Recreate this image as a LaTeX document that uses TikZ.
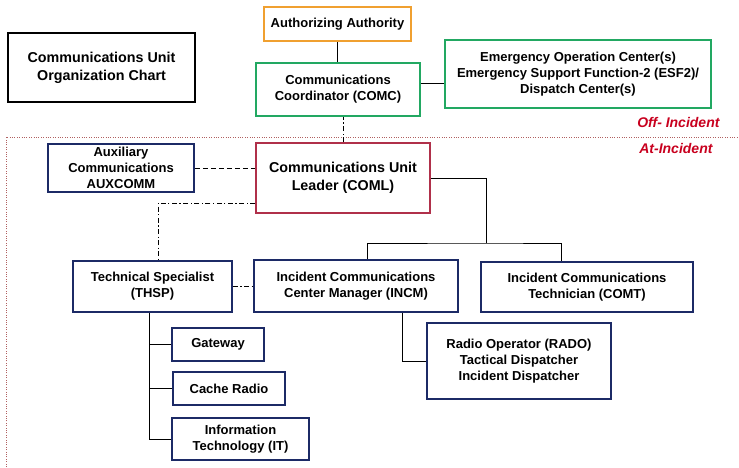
\documentclass[tikz,border=0pt]{standalone}
\usepackage{fontspec}
\setmainfont{Liberation Sans}
\usetikzlibrary{positioning, calc}
\definecolor{commorange}{HTML}{F0A030}
\definecolor{commgreen}{HTML}{22A862}
\definecolor{commnavy}{HTML}{1C2A66}
\definecolor{commcrimson}{HTML}{B0304A}
\definecolor{commred}{HTML}{C8001E}
\definecolor{commsep}{HTML}{B06060}

\begin{document}
\begin{tikzpicture}[x=1pt,y=-1pt,
  font=\fontsize{13}{16}\selectfont\bfseries,
  unitbox/.style={draw=commnavy,line width=1.6pt,align=center,inner sep=2pt,fill=white},
  bigtext/.style={font=\fontsize{14.3}{18}\selectfont\bfseries},
  link/.style={line width=0.9pt},
  dashlink/.style={line width=0.9pt,dash pattern=on 5pt off 3pt},
  dotdash/.style={line width=0.9pt,dash pattern=on 5pt off 2.5pt on 1.2pt off 2.5pt},
  sideline/.style={commsep,line width=0.7pt,dash pattern=on 1pt off 1.4pt},
  zone/.style={commred,font=\fontsize{14}{16}\selectfont\bfseries\itshape}]
  \useasboundingbox (0,0) rectangle (739,467);
  % off-incident / at-incident divider
  \draw[sideline] (6,467) -- (6,137) -- (739,137);
  \node[zone,anchor=east] (offinc) at (723,122) {Off- Incident};
  \node[zone,anchor=east] (atinc) at (716,148) {At-Incident};
  % boxes
  \node[unitbox,draw=black,bigtext,minimum width=187,minimum height=69] (chart) at (101.5,67.5) {Communications Unit\\Organization Chart};
  \node[unitbox,draw=commorange,minimum width=147,minimum height=34] (auth) at (337.5,24) {Authorizing Authority};
  \node[unitbox,draw=commgreen,minimum width=164,minimum height=53] (comc) at (338,89.5) {Communications\\Coordinator (COMC)};
  \node[unitbox,draw=commgreen,minimum width=266,minimum height=68] (eoc) at (578,74) {Emergency Operation Center(s)\\Emergency Support Function-2 (ESF2)/\\Dispatch Center(s)};
  \node[unitbox,minimum width=146,minimum height=48] (aux) at (121,168) {Auxiliary\\Communications\\AUXCOMM};
  \node[unitbox,draw=commcrimson,bigtext,minimum width=174,minimum height=70] (coml) at (343,178) {Communications Unit\\Leader (COML)};
  \node[unitbox,minimum width=159,minimum height=51] (thsp) at (152.5,286.5) {Technical Specialist\\(THSP)};
  \node[unitbox,minimum width=204,minimum height=52] (incm) at (356,286) {Incident Communications\\Center Manager (INCM)};
  \node[unitbox,minimum width=212,minimum height=50] (comt) at (587,287) {Incident Communications\\Technician (COMT)};
  \node[unitbox,minimum width=92,minimum height=33] (gate) at (218,344.5) {Gateway};
  \node[unitbox,minimum width=112,minimum height=33] (cache) at (229,388.5) {Cache Radio};
  \node[unitbox,minimum width=137,minimum height=42] (infotech) at (240.5,439) {Information\\Technology (IT)};
  \node[unitbox,minimum width=184,minimum height=76] (rado) at (519,361) {Radio Operator (RADO)\\Tactical Dispatcher\\Incident Dispatcher};
  % connectors
  \coordinate (bus) at (486,243);
  \draw[link] (auth.south) -- (auth.south |- comc.north);
  \draw[link] ([yshift=6.5]comc.east) -- ([yshift=6.5]comc.east -| eoc.west);
  \draw[dotdash] (coml.north) -- (coml.north |- comc.south);
  \draw[dashlink] (aux.east) -- (aux.east -| coml.west);
  \draw[link] (coml.east) -| (bus);
  \draw[link] ([xshift=11]incm.north) |- (bus) -| ([xshift=-26]comt.north);
  \draw[dotdash] ([yshift=-25]coml.west) -| ([xshift=5.5]thsp.north);
  \draw[dotdash] (thsp.east) -- (thsp.east -| incm.west);
  \draw[link] ([xshift=-3.5]thsp.south) |- (infotech.west);
  \draw[link] ([xshift=-3.5]thsp.south |- gate.west) -- (gate.west);
  \draw[link] ([xshift=-3.5]thsp.south |- cache.west) -- (cache.west);
  \draw[link] ([xshift=46]incm.south) |- (rado.west);
\end{tikzpicture}
\end{document}
